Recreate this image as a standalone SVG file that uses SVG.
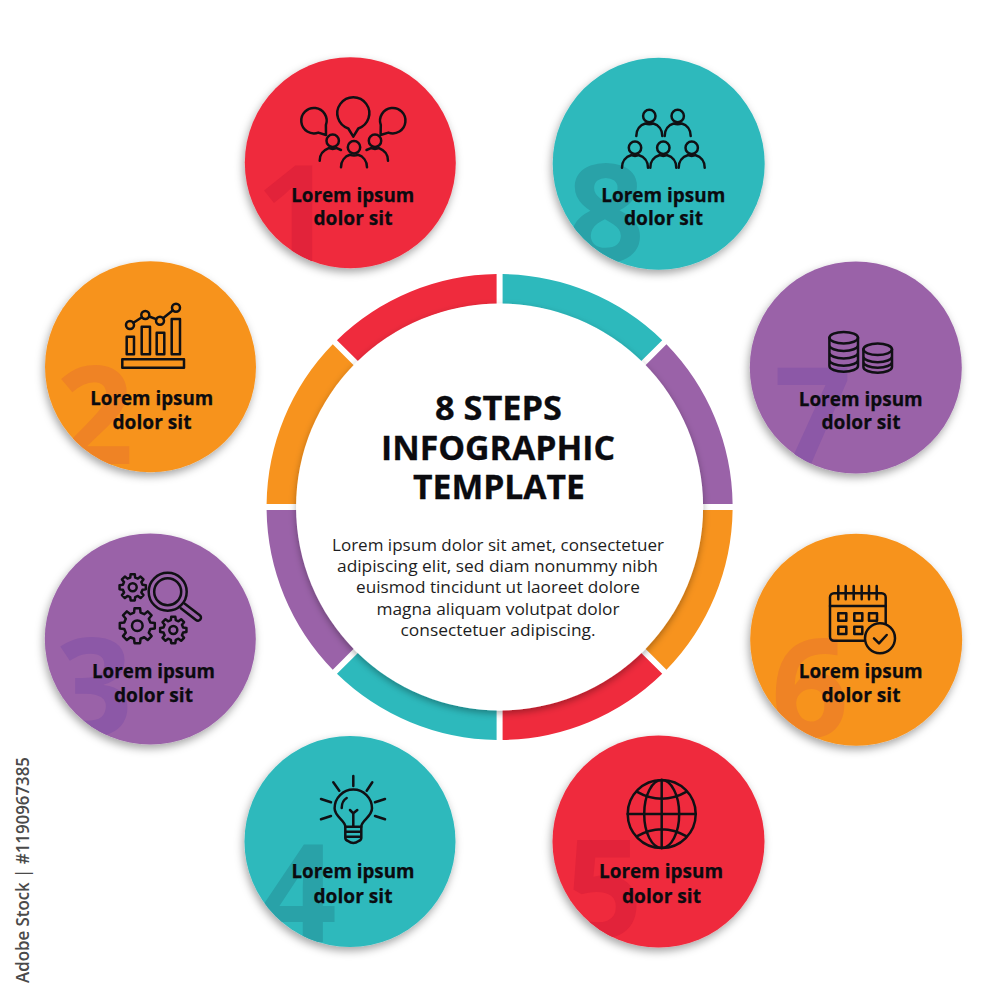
<svg xmlns="http://www.w3.org/2000/svg" width="1000" height="1000" viewBox="0 0 1000 1000">
<style>
text{font-family:"Open Sans","Noto Sans","Liberation Sans",sans-serif}
.lbl{font-size:20px;font-weight:700;fill:#0b0b0f;stroke:#0b0b0f;stroke-width:.25px;text-anchor:middle}
.ttl{font-size:34px;font-weight:700;fill:#0b0b0f;stroke:#0b0b0f;stroke-width:.3px;text-anchor:middle}
.body{font-size:16px;fill:#1d1d22;text-anchor:middle}
.dig{font-size:136px;font-weight:700;text-anchor:middle}
.disc{filter:url(#ds)}
.ic,.ic *{fill:none;stroke:#101014;stroke-width:2.5;stroke-linecap:round;stroke-linejoin:round}
.ns{vector-effect:non-scaling-stroke}
.red{fill:#EF2B3D}.teal{fill:#2DB9BC}.pur{fill:#9A62A8}.org{fill:#F7931E}
.d-red{fill:#E2233A}.d-teal{fill:#29A2A8}.d-pur{fill:#8C58A7}.d-org{fill:#EF8325}
</style>
<defs>
<filter id="ds" x="-20%" y="-20%" width="140%" height="140%"><feDropShadow dx="-1.5" dy="4" stdDeviation="4" flood-color="#000" flood-opacity=".35"/></filter>
<filter id="cs" x="-10%" y="-10%" width="120%" height="120%"><feDropShadow dx="0" dy="3" stdDeviation="3.5" flood-color="#000" flood-opacity=".32"/></filter>
<path id="segA" d="M3,-233A233,233 0 0 1 162.63,-166.85L141.41,-145.65A203,203 0 0 0 3,-203Z"/>
<path id="segB" d="M166.85,-162.63A233,233 0 0 1 233,-3L203,-3A203,203 0 0 0 145.65,-141.41Z"/>
<g id="person"><circle cx="0" cy="0" r="6.2"/><path d="M-13,20C-13,13.5 -9,9 -4,7.5Q0,9 4,7.5C9,9 13,13.5 13,20"/></g>
<g id="gear"><polygon class="ns" points="7.37,-1.84 9.88,-1.56 9.88,1.56 7.37,1.84 6.51,3.91 8.09,5.88 5.88,8.09 3.91,6.51 1.84,7.37 1.56,9.88 -1.56,9.88 -1.84,7.37 -3.91,6.51 -5.88,8.09 -8.09,5.88 -6.51,3.91 -7.37,1.84 -9.88,1.56 -9.88,-1.56 -7.37,-1.84 -6.51,-3.91 -8.09,-5.88 -5.88,-8.09 -3.91,-6.51 -1.84,-7.37 -1.56,-9.88 1.56,-9.88 1.84,-7.37 3.91,-6.51 5.88,-8.09 8.09,-5.88 6.51,-3.91"/><circle class="ns" r="3"/></g>
<clipPath id="c1"><circle cx="350.3" cy="162.8" r="105.5"/></clipPath>
<clipPath id="c2"><circle cx="150.5" cy="366.8" r="105.5"/></clipPath>
<clipPath id="c3"><circle cx="150.3" cy="639" r="105.5"/></clipPath>
<clipPath id="c4"><circle cx="350" cy="841.5" r="105.5"/></clipPath>
<clipPath id="c5"><circle cx="658.5" cy="841.5" r="106"/></clipPath>
<clipPath id="c6"><circle cx="856.2" cy="639.8" r="106"/></clipPath>
<clipPath id="c7"><circle cx="855.8" cy="367.5" r="106"/></clipPath>
<clipPath id="c8"><circle cx="658.7" cy="163.8" r="106"/></clipPath>
</defs>
<rect width="1000" height="1000" fill="#fff"/>

<g id="ring" transform="translate(499.6,507)">
<use href="#segA" class="teal"/>
<use href="#segB" class="pur"/>
<use href="#segA" class="org" transform="rotate(90)"/>
<use href="#segB" class="red" transform="rotate(90)"/>
<use href="#segA" class="teal" transform="rotate(180)"/>
<use href="#segB" class="pur" transform="rotate(180)"/>
<use href="#segA" class="org" transform="rotate(270)"/>
<use href="#segB" class="red" transform="rotate(270)"/>
</g>
<g id="center">
<circle cx="499.6" cy="507" r="203.5" fill="#fff" filter="url(#cs)"/>
<text class="ttl" x="498.5" y="420" textLength="127" lengthAdjust="spacingAndGlyphs">8 STEPS</text>
<text class="ttl" x="498" y="460" textLength="234" lengthAdjust="spacingAndGlyphs">INFOGRAPHIC</text>
<text class="ttl" x="499" y="499" textLength="172" lengthAdjust="spacingAndGlyphs">TEMPLATE</text>
<text class="body" x="498" y="550.5" textLength="332" lengthAdjust="spacingAndGlyphs">Lorem ipsum dolor sit amet, consectetuer</text>
<text class="body" x="497.5" y="572" textLength="321" lengthAdjust="spacingAndGlyphs">adipiscing elit, sed diam nonummy nibh</text>
<text class="body" x="498" y="593.3" textLength="284" lengthAdjust="spacingAndGlyphs">euismod tincidunt ut laoreet dolore</text>
<text class="body" x="498" y="614.7" textLength="243" lengthAdjust="spacingAndGlyphs">magna aliquam volutpat dolor</text>
<text class="body" x="498" y="636" textLength="195" lengthAdjust="spacingAndGlyphs">consectetuer adipiscing.</text>
</g>

<g id="step1">
<circle class="disc red" cx="350.3" cy="162.8" r="105.5"/>
<text class="dig d-red" clip-path="url(#c1)" x="295" y="263">1</text>
<g class="ic">
<path d="M348.3,128.5A16,16 0 1 1 358.3,128.5L353.3,136.7Z"/>
<path d="M325.9,125A12.7,12.7 0 1 0 318.3,132.6L326,135Z"/>
<path d="M380.8,125A12.7,12.7 0 1 1 388.4,132.6L380.6,135Z"/>
<use href="#person" x="354" y="147.3"/>
<circle cx="332.7" cy="140.7" r="6.2"/>
<circle cx="375" cy="140.7" r="6.2"/>
<path d="M319.7,160.7C319.7,154 324,150 328.7,148.2Q332.7,149.7 336.7,148.2L341,150"/>
<path d="M388,160.7C388,154 383.7,150 379,148.2Q375,149.7 371,148.2L366.5,150"/>
</g>
<text class="lbl" x="352.7" y="201.7" textLength="123" lengthAdjust="spacingAndGlyphs">Lorem ipsum</text>
<text class="lbl" x="353" y="225" textLength="79" lengthAdjust="spacingAndGlyphs">dolor sit</text>
</g>

<g id="step2">
<circle class="disc org" cx="150.5" cy="366.8" r="105.5"/>
<text class="dig d-org" clip-path="url(#c2)" x="95" y="464">2</text>
<g class="ic">
<rect x="122.3" y="359.3" width="61.7" height="8.4"/>
<rect x="126.7" y="336.7" width="7.3" height="17.6"/>
<rect x="141.7" y="326.7" width="8.3" height="27.6"/>
<rect x="156.7" y="332.7" width="7.6" height="21.6"/>
<rect x="171.7" y="319" width="8.3" height="35.3"/>
<path d="M133.4,322.8L141.9,317.2M149.1,316.5L156.2,319.2M163,318.2L173,310.2"/>
<circle cx="130" cy="325" r="4"/>
<circle cx="145.3" cy="315" r="4"/>
<circle cx="160" cy="320.7" r="4"/>
<circle cx="176" cy="307.7" r="4"/>
</g>
<text class="lbl" x="151.7" y="405" textLength="123" lengthAdjust="spacingAndGlyphs">Lorem ipsum</text>
<text class="lbl" x="152" y="428.5" textLength="79" lengthAdjust="spacingAndGlyphs">dolor sit</text>
</g>

<g id="step3">
<circle class="disc pur" cx="150.3" cy="639" r="105.5"/>
<text class="dig d-pur" clip-path="url(#c3)" x="94" y="736">3</text>
<g class="ic">
<use href="#gear" transform="translate(132.7,587.3) scale(1.33)"/>
<use href="#gear" transform="translate(137.3,625.7) scale(1.77)"/>
<use href="#gear" transform="translate(173.3,630) scale(1.33)"/>
<circle cx="167.7" cy="591.7" r="19"/>
<circle cx="167.7" cy="591.7" r="13.5"/>
<path d="M184.5,603.5L199.8,615.2A3,3 0 0 1 196,620L180.8,608.2"/>
</g>
<text class="lbl" x="153.5" y="677.5" textLength="123" lengthAdjust="spacingAndGlyphs">Lorem ipsum</text>
<text class="lbl" x="153.5" y="701.5" textLength="79" lengthAdjust="spacingAndGlyphs">dolor sit</text>
</g>

<g id="step4">
<circle class="disc teal" cx="350" cy="841.5" r="105.5"/>
<text class="dig d-teal" clip-path="url(#c4)" x="298" y="942">4</text>
<g class="ic">
<path d="M353.3,776V786M333.3,782.3L339.3,790.7M372.3,782.3L366.7,790.7M321,799L331,802.3M385,799L375,802.3M321,819.3L331,816M385,819.3L375,816"/>
<path d="M345.3,826.7C345.3,820 334.6,817 334.6,808.3A18.7,18.7 0 0 1 372,808.3C372,817 361.3,820 361.3,826.7Z"/>
<path d="M345.3,826.7V838Q345.3,840 348,841Q353.3,845 358.7,841Q361.3,840 361.3,838V826.7M345.3,831.7H361.3M345.3,836.7H361.3"/>
<path d="M350,810L353.3,813.3L357.3,810M353.3,813.3V826.7"/>
<path d="M341.7,808Q341.7,801 346.7,798"/>
</g>
<text class="lbl" x="353" y="878" textLength="123" lengthAdjust="spacingAndGlyphs">Lorem ipsum</text>
<text class="lbl" x="353" y="902.5" textLength="79" lengthAdjust="spacingAndGlyphs">dolor sit</text>
</g>

<g id="step5">
<circle class="disc red" cx="658.5" cy="841.5" r="106"/>
<text class="dig d-red" clip-path="url(#c5)" x="604" y="938">5</text>
<g class="ic">
<circle cx="661.7" cy="814" r="34"/>
<ellipse cx="661.7" cy="814" rx="17.5" ry="34"/>
<path d="M661.7,780V848M627.7,814H695.7M636.7,791.7Q661.7,806 686.7,791.7M636.7,836.3Q661.7,822 686.7,836.3"/>
</g>
<text class="lbl" x="661" y="878" textLength="124" lengthAdjust="spacingAndGlyphs">Lorem ipsum</text>
<text class="lbl" x="661.5" y="902.5" textLength="79" lengthAdjust="spacingAndGlyphs">dolor sit</text>
</g>

<g id="step6">
<circle class="disc org" cx="856.2" cy="639.8" r="106"/>
<text class="dig d-org" clip-path="url(#c6)" x="810" y="737">6</text>
<g class="ic">
<rect x="830" y="593.3" width="55.7" height="47.4" rx="4"/>
<path d="M830,606H885.7M838.3,586V599.3M845.7,586V599.3M853.7,586V599.3M861.7,586V599.3M869,586V599.3M876.7,586V599.3"/>
<rect x="838.3" y="613.3" width="8" height="7.4"/>
<rect x="854.3" y="613.3" width="8" height="7.4"/>
<rect x="869" y="613.3" width="8" height="7.4"/>
<rect x="838.3" y="626.7" width="8" height="7.4"/>
<rect x="854.3" y="626.7" width="8" height="7.4"/>
<circle cx="880" cy="638.3" r="15" style="fill:#F7931E"/>
<path d="M874,638.3L879,643.3L886.7,635"/>
</g>
<text class="lbl" x="860.7" y="677.5" textLength="124" lengthAdjust="spacingAndGlyphs">Lorem ipsum</text>
<text class="lbl" x="861" y="701.5" textLength="79" lengthAdjust="spacingAndGlyphs">dolor sit</text>
</g>

<g id="step7">
<circle class="disc pur" cx="855.8" cy="367.5" r="106"/>
<text class="dig d-pur" clip-path="url(#c7)" x="813" y="465">7</text>
<g class="ic">
<ellipse cx="843.7" cy="337.7" rx="14.3" ry="5.7"/>
<path d="M829.4,337.7V366A14.3,5.7 0 0 0 858,366V337.7M829.4,345.2A14.3,5.7 0 0 0 858,345.2M829.4,352.7A14.3,5.7 0 0 0 858,352.7M829.4,360A14.3,5.7 0 0 0 858,360"/>
<ellipse cx="877.7" cy="349.3" rx="14.3" ry="5.7"/>
<path d="M863.4,349.3V367A14.3,5.7 0 0 0 892,367V349.3M863.4,356.5A14.3,5.7 0 0 0 892,356.5M863.4,362A14.3,5.7 0 0 0 892,362"/>
</g>
<text class="lbl" x="860.7" y="405.5" textLength="124" lengthAdjust="spacingAndGlyphs">Lorem ipsum</text>
<text class="lbl" x="861" y="429" textLength="79" lengthAdjust="spacingAndGlyphs">dolor sit</text>
</g>

<g id="step8">
<circle class="disc teal" cx="658.7" cy="163.8" r="106"/>
<text class="dig d-teal" clip-path="url(#c8)" x="606" y="262">8</text>
<g class="ic">
<use href="#person" x="649.3" y="116"/>
<use href="#person" x="677.7" y="116"/>
<use href="#person" x="635" y="147.7"/>
<use href="#person" x="663.3" y="147.7"/>
<use href="#person" x="691.7" y="147.7"/>
</g>
<text class="lbl" x="663.3" y="201.7" textLength="124" lengthAdjust="spacingAndGlyphs">Lorem ipsum</text>
<text class="lbl" x="663.5" y="225" textLength="79" lengthAdjust="spacingAndGlyphs">dolor sit</text>
</g>

<text transform="translate(29,983) rotate(-90)" font-size="18" font-weight="600" fill="#4a4a4a" textLength="226" lengthAdjust="spacingAndGlyphs">Adobe Stock | #1190967385</text>
</svg>
